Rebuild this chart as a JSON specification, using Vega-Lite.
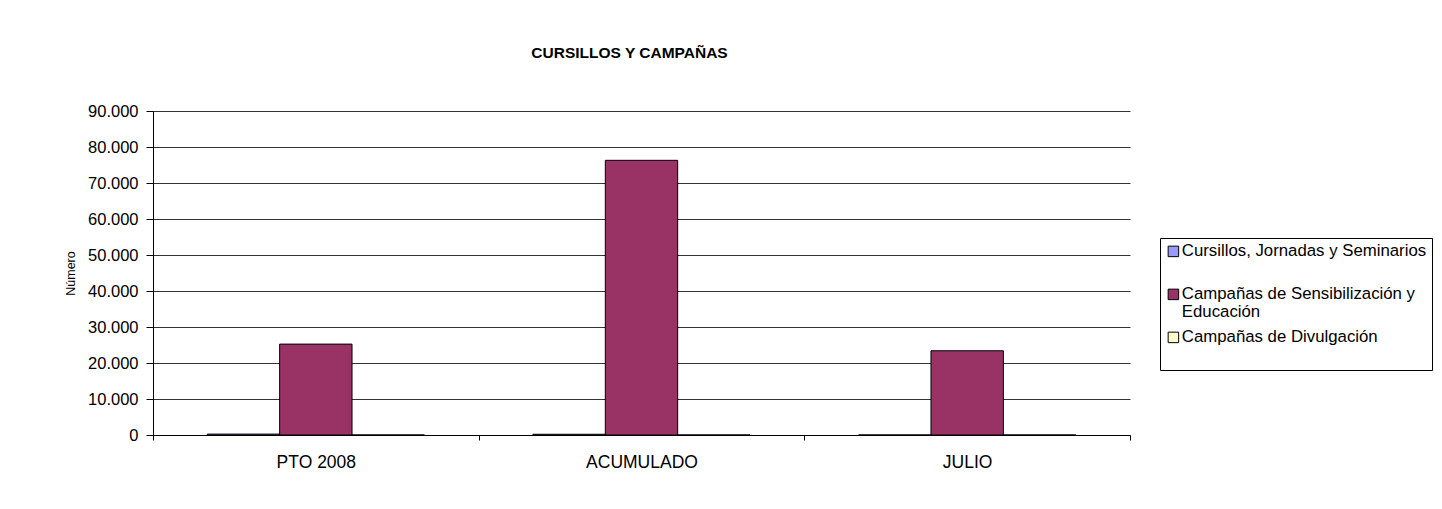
{
  "$schema": "https://vega.github.io/schema/vega-lite/v6.json",
  "width": 977,
  "height": 324,
  "autosize": {"type": "none"},
  "padding": {"left": 153, "top": 111, "right": 312, "bottom": 74},
  "background": "white",
  "title": {"text": "CURSILLOS Y CAMPAÑAS", "font": "Liberation Sans", "fontSize": 15.5, "fontWeight": "bold", "color": "black", "anchor": "middle", "offset": 42, "dx": -12},
  "data": {
    "values": [
      {"periodo": "PTO 2008", "serie": "Cursillos, Jornadas y Seminarios", "valor": 250},
      {"periodo": "PTO 2008", "serie": "Campañas de Sensibilización y Educación", "valor": 25250},
      {"periodo": "PTO 2008", "serie": "Campañas de Divulgación", "valor": 0},
      {"periodo": "ACUMULADO", "serie": "Cursillos, Jornadas y Seminarios", "valor": 200},
      {"periodo": "ACUMULADO", "serie": "Campañas de Sensibilización y Educación", "valor": 76300},
      {"periodo": "ACUMULADO", "serie": "Campañas de Divulgación", "valor": 0},
      {"periodo": "JULIO", "serie": "Cursillos, Jornadas y Seminarios", "valor": 0},
      {"periodo": "JULIO", "serie": "Campañas de Sensibilización y Educación", "valor": 23400},
      {"periodo": "JULIO", "serie": "Campañas de Divulgación", "valor": 0}
    ]
  },
  "mark": {"type": "bar", "stroke": "black", "strokeWidth": 1},
  "encoding": {
    "x": {
      "field": "periodo", "type": "nominal", "sort": ["PTO 2008", "ACUMULADO", "JULIO"],
      "scale": {"paddingInner": 0, "paddingOuter": 0},
      "axis": {"title": null, "labelAngle": 0, "tickBand": "extent", "domainColor": "black", "tickColor": "black", "tickSize": 5, "labelFontSize": 17.5, "labelFont": "Liberation Sans", "labelColor": "black", "labelPadding": 13}
    },
    "xOffset": {
      "field": "serie", "type": "nominal",
      "sort": ["Cursillos, Jornadas y Seminarios", "Campañas de Sensibilización y Educación", "Campañas de Divulgación"],
      "scale": {"paddingInner": 0, "paddingOuter": 0.75}
    },
    "y": {
      "field": "valor", "type": "quantitative",
      "scale": {"domain": [0, 90000], "nice": false},
      "axis": {
        "title": "Número", "values": [0, 10000, 20000, 30000, 40000, 50000, 60000, 70000, 80000, 90000],
        "labelExpr": "replace(format(datum.value, ','), ',', '.')",
        "grid": true, "gridColor": "#333333", "domainColor": "black", "tickColor": "black", "tickSize": 7,
        "labelFont": "Liberation Sans", "labelFontSize": 16.5, "labelColor": "black", "labelPadding": 8,
        "titleFont": "Liberation Sans", "titleFontSize": 12.5, "titleFontWeight": "normal", "titleColor": "black",
        "titleX": -83, "titleY": 162, "titleAngle": -90, "titleBaseline": "middle", "titleAlign": "center"
      }
    },
    "color": {
      "field": "serie", "type": "nominal",
      "scale": {"domain": ["Cursillos, Jornadas y Seminarios", "Campañas de Sensibilización y Educación", "Campañas de Divulgación"], "range": ["#9999FF", "#993366", "#FFFFCC"]},
      "legend": {
        "title": null, "orient": "none", "legendX": 1007, "legendY": 127,
        "strokeColor": "black", "fillColor": "white", "padding": 5,
        "symbolType": "square", "symbolSize": 110, "symbolStrokeColor": "black", "symbolStrokeWidth": 1,
        "labelFont": "Liberation Sans", "labelFontSize": 16.8, "labelColor": "black", "labelLimit": 300, "labelOffset": 0,
        "rowPadding": 7,
        "labelExpr": "datum.label == 'Campañas de Sensibilización y Educación' ? ['Campañas de Sensibilización y', 'Educación'] : [datum.label, ' ']",
        "encode": {
          "labels": {"update": {"lineHeight": {"value": 18}}}
        }
      }
    }
  },
  "config": {"view": {"stroke": null}}
}
